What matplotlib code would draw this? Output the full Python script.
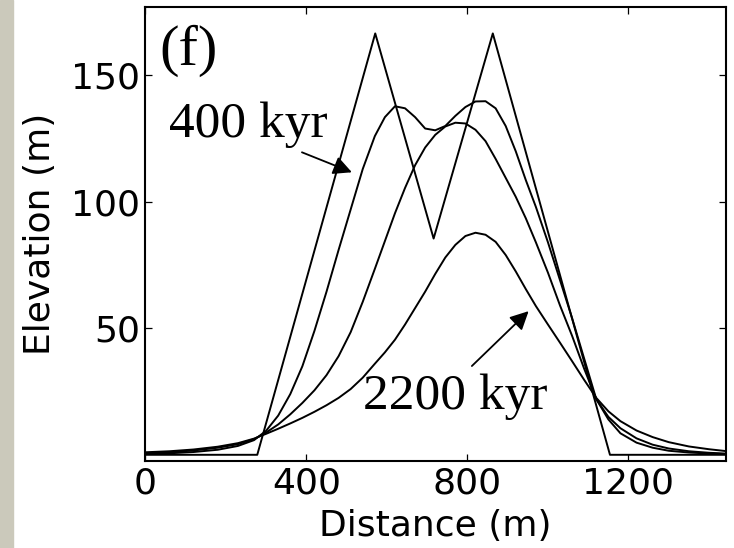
import matplotlib
matplotlib.use("Agg")
import matplotlib.pyplot as plt
from matplotlib.patches import Rectangle

# initial profile (sharp, two peaks)
init_x = [0, 278, 571, 716, 863, 1154, 1440]
init_y = [0, 0, 166.6, 85.5, 166.6, 0, 0]

grid = [0, 60, 120, 180, 230, 270, 300, 330, 360, 390, 420, 450, 480, 510, 540,
        570, 595, 620, 645, 670, 695, 720, 745, 770, 795, 820, 845, 870, 895,
        920, 945, 970, 1000, 1030, 1060, 1090, 1120, 1150, 1180, 1220, 1260,
        1300, 1350, 1400, 1440]

# 400 kyr
b_y = [0.3, 0.6, 1.1, 2.0, 3.5, 5.8, 9.5, 15.5, 24, 35, 49, 64.5, 81, 97, 113,
       126, 133.5, 137.8, 137, 133.5, 129, 128.3, 130, 134, 137.5, 139.7, 139.8,
       137, 130, 120, 108.6, 98, 84, 69, 54, 38, 22, 14, 8.5, 4.8, 2.8,
       1.6, 0.9, 0.5, 0.3]

# intermediate
c_y = [0.6, 1.0, 1.7, 2.8, 4.2, 6.2, 8.8, 12, 16, 20.5, 25.5, 31.5, 39, 48.5, 60.5,
       73.5, 84.5, 95.5, 105.5, 114.5, 121.5, 126.5, 129.8, 131.3, 131, 128.5, 124,
       117, 109.5, 102, 93.5, 84, 72, 59, 47, 34, 22, 15, 10.5, 6.5, 4.0,
       2.5, 1.4, 0.8, 0.5]

# 2200 kyr
e_y = [1.0, 1.4, 2.1, 3.2, 4.6, 6.4, 8.3, 10.3, 12.4, 14.6, 17, 19.6, 22.5, 26, 30.5,
       36, 40.5, 45.5, 51.5, 58, 64.5, 71.5, 78, 83, 86.5, 87.8, 87, 84.2,
       79, 72.5, 65.5, 58.8, 51.5, 44.3, 37, 29.6, 22.5, 17.2, 13.3, 9.6, 7.0,
       5.0, 3.3, 2.2, 1.5]

fig = plt.figure(figsize=(7.34, 5.48), dpi=100)
fig.patches.append(Rectangle((0, 0), 13 / 734, 1, transform=fig.transFigure,
                             color="#cbc9bb", zorder=0))
ax = fig.add_axes([0.198, 0.159, 0.791, 0.828])

for yy in (b_y, c_y, e_y):
    ax.plot(grid, yy, color="black", lw=1.4)
ax.plot(init_x, init_y, color="black", lw=1.4)

ax.set_xlim(0, 1442)
ax.set_ylim(-2.4, 177)
ax.set_xticks([0, 400, 800, 1200])
ax.set_yticks([50, 100, 150])
ax.tick_params(direction="in", top=True, right=True, length=5, width=0.9,
               labelsize=26, pad=4)
for s in ax.spines.values():
    s.set_linewidth(1.5)

ax.set_xlabel("Distance (m)", fontsize=26, labelpad=6)
ax.set_ylabel("Elevation (m)", fontsize=26, labelpad=10)

serif = ["Liberation Serif", "DejaVu Serif"]
ax.text(36, 154, "(f)", family=serif, fontsize=42, va="baseline")
ax.text(58, 125.5, "400 kyr", family=serif, fontsize=37, va="baseline")
ax.text(540, 18.2, "2200 kyr", family=serif, fontsize=37, va="baseline")

ax.annotate("", xy=(513, 111.7), xytext=(389, 119.6),
            arrowprops=dict(arrowstyle="-|>", color="black", lw=1.3,
                            mutation_scale=28, shrinkA=0, shrinkB=0))
ax.annotate("", xy=(952, 56.8), xytext=(811, 35.1),
            arrowprops=dict(arrowstyle="-|>", color="black", lw=1.3,
                            mutation_scale=28, shrinkA=0, shrinkB=0))

fig.savefig("out.png", dpi=100)
